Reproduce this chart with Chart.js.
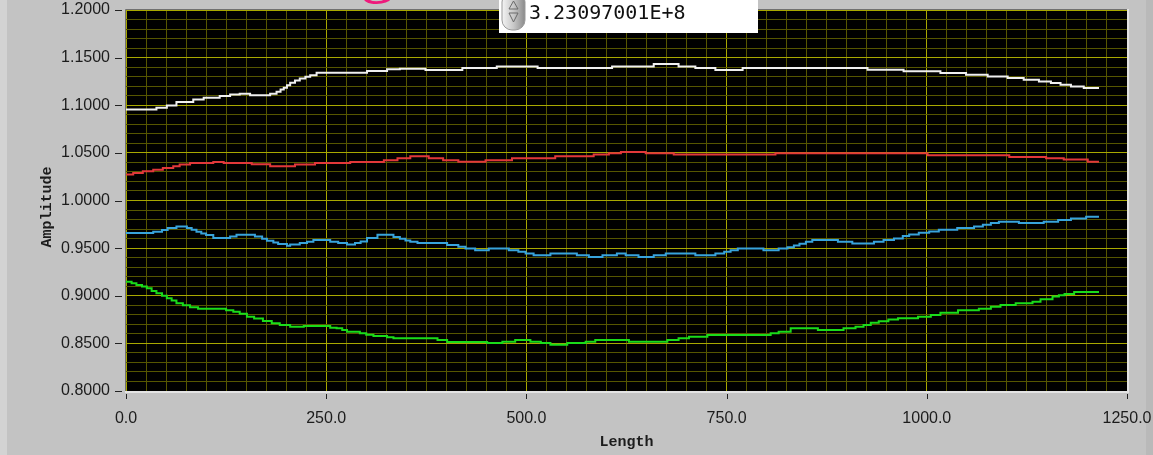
<!DOCTYPE html>
<html>
<head>
<meta charset="utf-8">
<script src="https://cdn.jsdelivr.net/npm/chart.js@4.4.0/dist/chart.umd.min.js"></script>
<style>
  html, body { margin: 0; padding: 0; }
  body { width: 1153px; height: 455px; background: #c3c3c3; position: relative; overflow: hidden; }
  #leftEdge { position: absolute; left: 0; top: 0; width: 7px; height: 455px; background: #d3d3d3; }
  #rightEdge { position: absolute; left: 1146px; top: 0; width: 7px; height: 455px; background: #b9b9b9; }
  #plot { position: absolute; left: 0; top: 0; }
  #titleClip { position: absolute; left: 340px; top: 0; width: 70px; height: 5px; overflow: hidden; }
  #titleClip span { position: absolute; left: 20px; top: -69px; font: 70px/70px "Liberation Serif", serif; color: #ee1a7c; }
  #cursorBox { position: absolute; left: 499px; top: 0; width: 259px; height: 33px; background: #fff; }
  #cursorBox svg { position: absolute; left: 1px; top: 0; }
  #cursorBox .val { position: absolute; left: 30px; top: 0; font: 20px "DejaVu Sans Mono", monospace; color: #111; }
</style>
</head>
<body>
<div id="leftEdge"></div>
<div id="rightEdge"></div>
<canvas id="plot" width="1153" height="455"></canvas>
<div id="titleClip"><span>g</span></div>
<div id="cursorBox">
  <svg width="28" height="32" viewBox="0 0 28 32">
    <defs>
      <linearGradient id="knob" x1="0" x2="1" y1="0" y2="0">
        <stop offset="0" stop-color="#f4f4f4"/>
        <stop offset="0.5" stop-color="#c8c8c8"/>
        <stop offset="1" stop-color="#8a8a8a"/>
      </linearGradient>
    </defs>
    <rect x="2" y="-8" width="23" height="38" rx="10" fill="url(#knob)" stroke="#9a9a9a"/>
    <path d="M9 9 L13.5 1 L18 9 Z" fill="none" stroke="#6a6a6a"/>
    <path d="M9 13 L18 13 L13.5 22 Z" fill="none" stroke="#6a6a6a"/>
  </svg>
  <div class="val">3.23097001E+8</div>
</div>
<script>
// Length where each step starts, and the Amplitude it holds
const whiteX = [0, 38, 51, 63, 84, 97, 117, 130, 142, 155, 180, 188, 193, 197, 201, 205, 211, 217, 224, 230,
  238, 301, 326, 342, 374, 420, 463, 514, 607, 659, 690, 711, 736, 770, 926, 971, 1017, 1049, 1076, 1101,
  1121, 1140, 1155, 1167, 1180, 1196, 1215];
const whiteY = [1.0956, 1.0974, 1.0998, 1.1033, 1.1061, 1.1079, 1.1096, 1.1114, 1.1121, 1.1106, 1.1121, 1.1142, 1.1165, 1.1184, 1.121, 1.1237, 1.126, 1.1282, 1.130, 1.1314,
  1.1342, 1.1359, 1.1377, 1.1384, 1.1369, 1.139, 1.1408, 1.139, 1.1408, 1.1433, 1.1408, 1.139, 1.1369, 1.139, 1.1374, 1.1356, 1.1338, 1.1321, 1.1303, 1.1285,
  1.1268, 1.125, 1.1233, 1.1216, 1.1198, 1.118, 1.118];

const redX = [0, 9, 21, 34, 46, 59, 67, 80, 109, 122, 157, 180, 211, 236, 280, 322, 339, 355, 378, 396,
  415, 449, 482, 536, 584, 603, 618, 649, 684, 811, 1001, 1103, 1149, 1171, 1201, 1215];
const redY = [1.0272, 1.029, 1.0306, 1.0324, 1.0342, 1.0359, 1.0377, 1.0395, 1.0405, 1.0395, 1.038, 1.0359, 1.0377, 1.0395, 1.0405, 1.0422, 1.0443, 1.0464, 1.0443, 1.0422,
  1.0408, 1.0422, 1.0443, 1.0464, 1.0482, 1.0496, 1.051, 1.0496, 1.0482, 1.0496, 1.0475, 1.0458, 1.0443, 1.043, 1.0408, 1.0408];

const blueX = [0, 34, 45, 52, 63, 76, 82, 88, 94, 100, 109, 130, 138, 161, 170, 176, 184, 190, 201, 205,
  217, 226, 234, 255, 265, 276, 286, 293, 301, 314, 334, 342, 349, 355, 364, 401, 415, 424, 436, 453,
  478, 490, 499, 509, 530, 563, 578, 595, 613, 624, 640, 659, 674, 711, 736, 747, 755, 764, 796, 815,
  826, 834, 841, 849, 857, 889, 907, 934, 946, 959, 970, 978, 990, 1003, 1015, 1038, 1059, 1070, 1080, 1090,
  1115, 1146, 1164, 1180, 1199, 1215];
const blueY = [0.9658, 0.9672, 0.969, 0.971, 0.9727, 0.971, 0.9693, 0.9672, 0.9654, 0.9637, 0.9605, 0.9622, 0.964, 0.9622, 0.9598, 0.9577, 0.9559, 0.9542, 0.9524, 0.9538,
  0.9553, 0.9566, 0.9584, 0.9566, 0.9553, 0.9538, 0.9553, 0.957, 0.9605, 0.964, 0.9616, 0.9598, 0.958, 0.9566, 0.9553, 0.9532, 0.9514, 0.9496, 0.9479, 0.9496,
  0.9479, 0.9461, 0.9443, 0.9426, 0.9443, 0.9426, 0.9408, 0.9426, 0.9443, 0.9426, 0.9408, 0.9426, 0.9443, 0.9426, 0.9443, 0.9461, 0.9479, 0.9496, 0.9479, 0.9496,
  0.951, 0.9527, 0.9545, 0.9566, 0.9584, 0.9566, 0.9548, 0.9566, 0.9584, 0.9601, 0.9626, 0.9643, 0.9661, 0.9675, 0.9693, 0.971, 0.9727, 0.9745, 0.9763, 0.9777,
  0.9763, 0.9777, 0.9795, 0.9812, 0.983, 0.983];

const greenX = [0, 7, 13, 20, 26, 32, 38, 45, 51, 57, 63, 71, 80, 90, 125, 134, 142, 151, 160, 171,
  182, 192, 205, 222, 255, 263, 270, 276, 292, 300, 309, 326, 334, 389, 401, 451, 470, 486, 505, 518,
  530, 551, 574, 586, 628, 676, 690, 703, 726, 805, 815, 830, 864, 896, 911, 921, 930, 940, 952, 964,
  989, 1005, 1017, 1039, 1065, 1080, 1092, 1111, 1132, 1142, 1157, 1165, 1172, 1184, 1215];
const greenY = [0.9148, 0.913, 0.9114, 0.9096, 0.9079, 0.905, 0.9026, 0.900, 0.8974, 0.895, 0.8921, 0.890, 0.8879, 0.8864, 0.8848, 0.8833, 0.881, 0.878, 0.876, 0.8735,
  0.871, 0.8693, 0.8675, 0.8682, 0.8665, 0.8658, 0.864, 0.8622, 0.8605, 0.859, 0.8577, 0.8563, 0.8553, 0.8535, 0.8514, 0.8503, 0.8517, 0.8535, 0.8517, 0.8503,
  0.8485, 0.8503, 0.8517, 0.8535, 0.8517, 0.8535, 0.8553, 0.857, 0.8587, 0.8605, 0.8622, 0.8658, 0.864, 0.8658, 0.8675, 0.8693, 0.8717, 0.8732, 0.875, 0.8763,
  0.878, 0.8798, 0.8822, 0.8847, 0.8864, 0.8885, 0.8903, 0.8921, 0.8938, 0.8963, 0.8991, 0.9005, 0.9019, 0.904, 0.904];

// labelled ticks
const xMajor = [0, 250, 500, 750, 1000, 1250];
const yMajor = [0.80, 0.85, 0.90, 0.95, 1.00, 1.05, 1.10, 1.15, 1.20];
const xTitle = "Length";
const yTitle = "Amplitude";

const isMajor = (list, v) => list.some(m => Math.abs(m - v) < 1e-6);
const toPoints = (xs, ys) => xs.map((x, i) => ({ x: x, y: ys[i] }));

// each value holds until the next point
const line = (data, color) => ({
  data: data,
  borderColor: color,
  borderWidth: 2,
  pointRadius: 0,
  stepped: "before",
  fill: false
});

// black plot area, sunken frame, outside tick marks and axis names
const panelPlugin = {
  id: "panel",
  beforeDraw(chart) {
    const { ctx, chartArea: a } = chart;
    ctx.save();
    ctx.fillStyle = "#000000";
    ctx.fillRect(a.left, a.top, a.right - a.left, a.bottom - a.top);
    ctx.restore();
  },
  afterDraw(chart) {
    const { ctx, chartArea: a, scales } = chart;
    ctx.save();
    ctx.lineWidth = 1;
    ctx.strokeStyle = "#707070";
    ctx.beginPath();
    ctx.moveTo(a.left - 0.5, a.bottom);
    ctx.lineTo(a.left - 0.5, a.top - 0.5);
    ctx.lineTo(a.right, a.top - 0.5);
    ctx.stroke();
    ctx.strokeStyle = "#e4e4e4";
    ctx.lineWidth = 2;
    ctx.beginPath();
    ctx.moveTo(a.left - 1, a.bottom + 1);
    ctx.lineTo(a.right + 1, a.bottom + 1);
    ctx.lineTo(a.right + 1, a.top - 1);
    ctx.stroke();

    ctx.strokeStyle = "#222222";
    ctx.lineWidth = 1;
    yMajor.forEach(v => {
      const y = Math.round(scales.y.getPixelForValue(v)) + 0.5;
      ctx.beginPath();
      ctx.moveTo(a.left - 11, y);
      ctx.lineTo(a.left - 4, y);
      ctx.stroke();
    });
    xMajor.forEach(v => {
      const x = Math.round(scales.x.getPixelForValue(v)) + 0.5;
      ctx.beginPath();
      ctx.moveTo(x, a.bottom + 3);
      ctx.lineTo(x, a.bottom + 8);
      ctx.stroke();
    });

    ctx.fillStyle = "#1c1c1c";
    ctx.font = 'bold 15px "Liberation Mono", monospace';
    ctx.textAlign = "center";
    ctx.textBaseline = "middle";
    ctx.fillText(xTitle, (a.left + a.right) / 2, 442);
    ctx.translate(47, 207);
    ctx.rotate(-Math.PI / 2);
    ctx.fillText(yTitle, 0, 0);
    ctx.restore();
  }
};

const tickFont = { family: '"Liberation Sans", Arial, sans-serif', size: 16 };

new Chart(document.getElementById("plot"), {
  type: "line",
  data: {
    datasets: [
      line(toPoints(whiteX, whiteY), "#f0f0f0"),
      line(toPoints(redX, redY), "#e2383a"),
      line(toPoints(blueX, blueY), "#38a4dc"),
      line(toPoints(greenX, greenY), "#1adc1a")
    ]
  },
  options: {
    responsive: false,
    animation: false,
    layout: { padding: { left: 0, top: 10, right: 26, bottom: 0 } },
    plugins: { legend: { display: false }, tooltip: { enabled: false } },
    scales: {
      x: {
        type: "linear",
        min: 0,
        max: 1250,
        afterFit: s => {
          s.height = 64;
          s.paddingLeft = 0;
          s.paddingRight = 0;
        },
        afterBuildTicks: s => {
          s.ticks = [];
          for (let v = 0; v <= 1250; v += 25) s.ticks.push({ value: v });
        },
        ticks: {
          autoSkip: false,
          maxRotation: 0,
          padding: 18,
          color: "#1c1c1c",
          font: tickFont,
          callback: v => (isMajor(xMajor, v) ? v.toFixed(1) : "")
        },
        grid: {
          drawTicks: false,
          color: c => (c.tick && isMajor(xMajor, c.tick.value) ? "#a8a800" : "#565600")
        },
        border: { display: false }
      },
      y: {
        type: "linear",
        min: 0.8,
        max: 1.2,
        afterFit: s => {
          s.width = 126;
          s.paddingTop = 0;
          s.paddingBottom = 0;
        },
        afterBuildTicks: s => {
          s.ticks = [];
          for (let i = 0; i <= 40; i++) s.ticks.push({ value: Math.round((0.8 + i * 0.01) * 100) / 100 });
        },
        ticks: {
          autoSkip: false,
          padding: 16,
          color: "#1c1c1c",
          font: tickFont,
          callback: v => (isMajor(yMajor, v) ? v.toFixed(4) : "")
        },
        grid: {
          drawTicks: false,
          color: c => (c.tick && isMajor(yMajor, c.tick.value) ? "#a8a800" : "#565600")
        },
        border: { display: false }
      }
    }
  },
  plugins: [panelPlugin]
});
</script>
</body>
</html>
